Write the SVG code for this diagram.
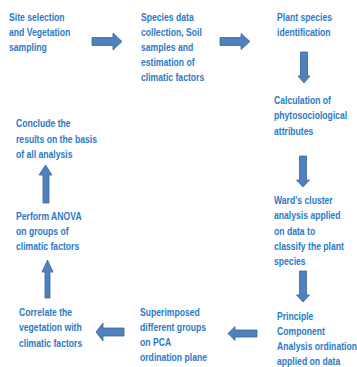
<svg xmlns="http://www.w3.org/2000/svg" width="357" height="367" viewBox="0 0 357 367">
<style>
text{font-family:"Liberation Sans",Arial,sans-serif;font-weight:bold;font-size:11.5px;fill:#2B79C9}
.ar{fill:#4F81BD;stroke:#3A6599;stroke-width:0.8}
</style>
<rect width="357" height="367" fill="#fff"/>
<g id="n1" transform="translate(9 0) scale(0.75 1)"><text><tspan x="0" y="21">Site selection</tspan><tspan x="0" y="36">and Vegetation</tspan><tspan x="0" y="51">sampling</tspan></text></g>
<g id="n2" transform="translate(141 0) scale(0.75 1)"><text><tspan x="0" y="21">Species data</tspan><tspan x="0" y="36">collection,  Soil</tspan><tspan x="0" y="51">samples and</tspan><tspan x="0" y="66">estimation of</tspan><tspan x="0" y="81">climatic factors</tspan></text></g>
<g id="n3" transform="translate(277 0) scale(0.75 1)"><text><tspan x="0" y="21">Plant species</tspan><tspan x="0" y="36">identification</tspan></text></g>
<g id="n4" transform="translate(274 0) scale(0.75 1)"><text><tspan x="0" y="104">Calculation of</tspan><tspan x="0" y="119.5">phytosociological</tspan><tspan x="0" y="135">attributes</tspan></text></g>
<g id="n5" transform="translate(274 0) scale(0.75 1)"><text><tspan x="0" y="204">Ward's cluster</tspan><tspan x="0" y="219.5">analysis applied</tspan><tspan x="0" y="235">on data to</tspan><tspan x="0" y="250">classify the plant</tspan><tspan x="0" y="265">species</tspan></text></g>
<g id="n6" transform="translate(277 0) scale(0.75 1)"><text><tspan x="0" y="320.5">Principle</tspan><tspan x="0" y="335">Component</tspan><tspan x="0" y="350">Analysis ordination</tspan><tspan x="0" y="365">applied on data</tspan></text></g>
<g id="n7" transform="translate(140 0) scale(0.75 1)"><text><tspan x="0" y="316">Superimposed</tspan><tspan x="0" y="331">different groups</tspan><tspan x="0" y="346">on PCA</tspan><tspan x="0" y="361">ordination plane</tspan></text></g>
<g id="n8" transform="translate(19 0) scale(0.75 1)"><text><tspan x="0" y="316">Correlate the</tspan><tspan x="0" y="331.5">vegetation with</tspan><tspan x="0" y="347">climatic factors</tspan></text></g>
<g id="n9" transform="translate(16 0) scale(0.75 1)"><text><tspan x="0" y="220">Perform ANOVA</tspan><tspan x="0" y="235">on groups of</tspan><tspan x="0" y="250">climatic factors</tspan></text></g>
<g id="n10" transform="translate(16 0) scale(0.75 1)"><text><tspan x="0" y="127">Conclude the</tspan><tspan x="0" y="143">results on the basis</tspan><tspan x="0" y="158">of all analysis</tspan></text></g>
<g id="connectors">
<polygon class="ar" points="92,37.5 113,37.5 113,33 122,41.5 113,50 113,45.5 92,45.5"/>
<polygon class="ar" points="220,37.5 241,37.5 241,33.5 250,41.5 241,49.5 241,45.5 220,45.5"/>
<polygon class="ar" points="300.5,52 307.5,52 307.5,76 310,76 304,83 298,76 300.5,76"/>
<polygon class="ar" points="299.5,156 306.5,156 306.5,180 309.5,180 303,187 296.5,180 299.5,180"/>
<polygon class="ar" points="299.5,271 306.5,271 306.5,295 309.5,295 303,302 296.5,295 299.5,295"/>
<polygon class="ar" points="257,330 235,330 235,326.5 228,333.5 235,340.5 235,337 257,337"/>
<polygon class="ar" points="124,328 103,328 103,323 96,332 103,341 103,336 124,336"/>
<polygon class="ar" points="45,298 50,298 50,272 53,272 47.5,260 42,272 45,272"/>
<polygon class="ar" points="43,203 49,203 49,175 52,175 45.5,165 39,175 43,175"/>
</g>
</svg>
